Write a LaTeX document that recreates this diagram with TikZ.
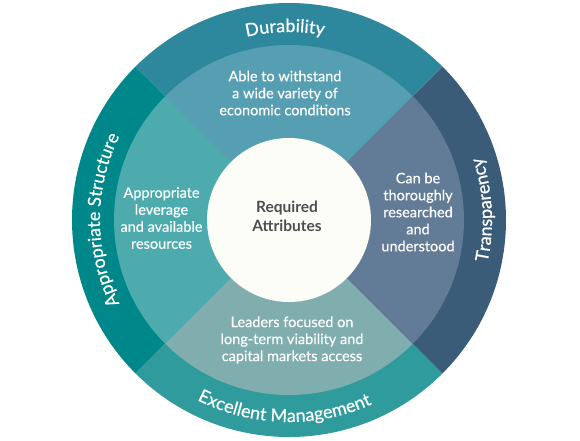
\documentclass[tikz,border=0pt]{standalone}
\usepackage{fontspec}
\setmainfont{Lato}
\newfontfamily\bandfam[FakeBold=0.5]{Lato}
\newfontfamily\quadfam[FakeBold=0.3]{Lato}
\usetikzlibrary{decorations.text}
\definecolor{durO}{HTML}{2E889D}
\definecolor{durI}{HTML}{569FB2}
\definecolor{strO}{HTML}{00878A}
\definecolor{strI}{HTML}{4DABAE}
\definecolor{traO}{HTML}{3B5C79}
\definecolor{traI}{HTML}{627B96}
\definecolor{manO}{HTML}{2F9B9D}
\definecolor{manI}{HTML}{80AEAE}
\definecolor{corefill}{HTML}{FDFDF8}
\definecolor{coretext}{HTML}{4D4D4F}
\newcommand\bandfont{\bandfam\fontsize{18}{18}\selectfont}
\tikzset{
  inner text/.style={text=white, align=center, font=\quadfam\fontsize{14.5}{17}\selectfont, inner sep=0pt},
  band label/.style={decorate, decoration={text along path, text align=center, text color=white, text={#1}}}
}
\begin{document}
\begin{tikzpicture}[x=1pt,y=1pt]
\useasboundingbox (-289,-220) rectangle (291,220);
% outer bands
\fill[durO] (0,0) -- (45:217) arc[start angle=45, end angle=135, radius=217] -- cycle;
\fill[strO] (0,0) -- (135:217) arc[start angle=135, end angle=225, radius=217] -- cycle;
\fill[manO] (0,0) -- (225:217) arc[start angle=225, end angle=315, radius=217] -- cycle;
\fill[traO] (0,0) -- (-45:217) arc[start angle=-45, end angle=45, radius=217] -- cycle;
% inner quadrants
\fill[durI] (0,0) -- (45:175) arc[start angle=45, end angle=135, radius=175] -- cycle;
\fill[strI] (0,0) -- (135:175) arc[start angle=135, end angle=225, radius=175] -- cycle;
\fill[manI] (0,0) -- (225:175) arc[start angle=225, end angle=315, radius=175] -- cycle;
\fill[traI] (0,0) -- (-45:175) arc[start angle=-45, end angle=45, radius=175] -- cycle;
% core
\node[circle, fill=corefill, minimum size=164pt, inner sep=0pt] (core) at (0,0) {};
\node[text=coretext, align=center, font=\bfseries\fontsize{15.5}{19}\selectfont, inner sep=0pt] (coretxt) at (-2,4) {Required\\Attributes};
% quadrant texts
\node[inner text] (durtxt) at (-4,127) {Able to withstand\\a wide variety of\\economic conditions};
\node[inner text] (strtxt) at (-127.5,2) {Appropriate\\leverage\\and available\\resources};
\node[inner text] (tratxt) at (129,8) {Can be\\thoroughly\\researched\\and\\understood};
\node[inner text] (mantxt) at (3,-120) {Leaders focused on\\long-term viability and\\capital markets access};
% band labels
\path[band label={|\bandfont|Durability}] (136.2:188) arc[start angle=136.2, end angle=46.2, radius=188];
\path[band label={|\bandfont|Appropriate Structure}] (225:189) arc[start angle=225, end angle=135, radius=189];
\path[band label={|\bandfont|Excellent Management}] (223.6:202) arc[start angle=223.6, end angle=313.6, radius=202];
\path[band label={|\bandfont|Transparency}] (-42:203) arc[start angle=-42, end angle=48, radius=203];
\end{tikzpicture}
\end{document}
